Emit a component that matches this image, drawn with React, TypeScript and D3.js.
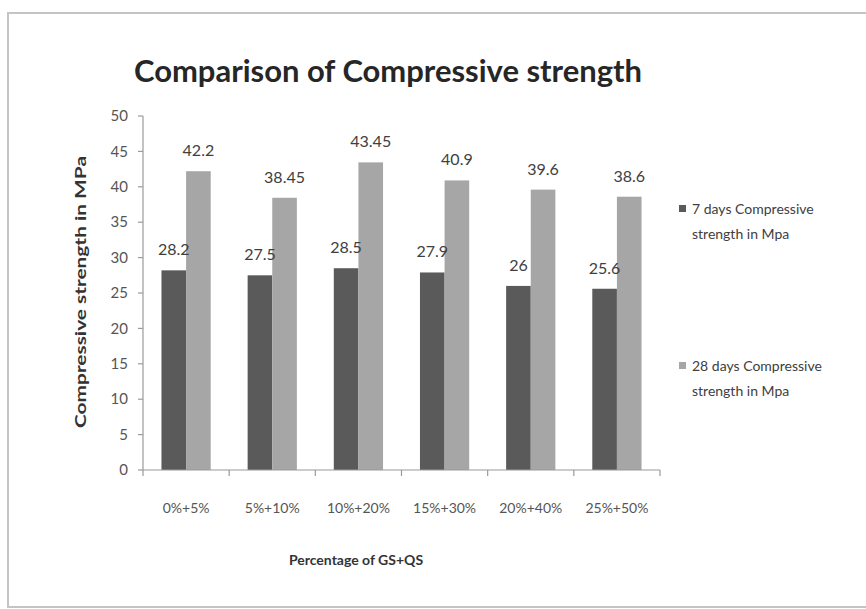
import React from "react";
import * as d3 from "d3";

const categories = ["0%+5%", "5%+10%", "10%+20%", "15%+30%", "20%+40%", "25%+50%"];
const days7 = [28.2, 27.5, 28.5, 27.9, 26, 25.6];
const days28 = [42.2, 38.45, 43.45, 40.9, 39.6, 38.6];
const seriesNames = ["7 days Compressive strength in Mpa", "28 days Compressive strength in Mpa"];
const yTicks = [0, 5, 10, 15, 20, 25, 30, 35, 40, 45, 50];

const FONT = "Lato, 'Open Sans', sans-serif";
const colors = ["#5a5a5a", "#a6a6a6"];

export default function App() {
  const W = 866, H = 609;
  const left = 143, right = 660, top = 116, bottom = 470;
  const x = d3.scaleBand<string>().domain(categories).range([left, right]).padding(0);
  const inner = d3.scaleBand<string>().domain(["s0", "s1"]).range([0, x.bandwidth()]).paddingInner(0).paddingOuter(0.75);
  const y = d3.scaleLinear().domain([0, 50]).range([bottom, top]);
  const series = [days7, days28];
  const keys = ["s0", "s1"];
  const bw = inner.bandwidth();

  return (
    <svg width={W} height={H} style={{ position: "absolute", left: 0, top: 0, background: "#fff" }} fontFamily={FONT}>
      <rect x={0} y={0} width={W} height={H} fill="#fff" />
      <rect x={8} y={13} width={880} height={594} fill="#fff" stroke="#c4c4c4" strokeWidth={2} />
      <text x={388} y={82} textAnchor="middle" fontSize={30} fontWeight="bold" fill="#262626" textLength={508} lengthAdjust="spacingAndGlyphs">
        Comparison of Compressive strength
      </text>
      {/* y axis */}
      <line x1={left} x2={left} y1={top} y2={bottom} stroke="#9a9a9a" strokeWidth={1.2} />
      {yTicks.map((t) => (
        <g key={t}>
          <line x1={left - 5} x2={left} y1={y(t)} y2={y(t)} stroke="#9a9a9a" strokeWidth={1.2} />
          <text x={128} y={y(t)} dy="0.35em" textAnchor="end" fontSize={15} fill="#555">{t}</text>
        </g>
      ))}
      {/* bars */}
      {categories.map((c, i) => (
        <g key={"g" + c}>
          {series.map((s, j) => (
            <rect key={j} x={x(c)! + inner(keys[j])!} y={y(s[i])} width={bw} height={bottom - y(s[i])} fill={colors[j]} />
          ))}
        </g>
      ))}
      {/* x axis */}
      <line x1={left} x2={right} y1={bottom} y2={bottom} stroke="#9a9a9a" strokeWidth={1.2} />
      {categories.map((c) => (
        <line key={"tk" + c} x1={x(c)!} x2={x(c)!} y1={bottom} y2={bottom + 6} stroke="#9a9a9a" strokeWidth={1.2} />
      ))}
      <line x1={right} x2={right} y1={bottom} y2={bottom + 6} stroke="#9a9a9a" strokeWidth={1.2} />
      {categories.map((c) => (
        <text key={"lb" + c} x={x(c)! + x.bandwidth() / 2} y={513} textAnchor="middle" fontSize={14} fill="#555">{c}</text>
      ))}
      {/* data labels */}
      {categories.map((c, i) => (
        <g key={"dl" + c}>
          {series.map((s, j) => (
            <text key={j} x={x(c)! + inner(keys[j])! + bw / 2} y={y(s[i]) - 15} textAnchor="middle" fontSize={16} fill="#404040">{s[i]}</text>
          ))}
        </g>
      ))}
      {/* axis titles */}
      <text transform={`translate(86,292) rotate(-90)`} textAnchor="middle" fontSize={15} fontWeight="bold" fill="#333" textLength={272} lengthAdjust="spacingAndGlyphs">
        Compressive strength in MPa
      </text>
      <text x={356} y={565} textAnchor="middle" fontSize={14} fontWeight="bold" fill="#333">Percentage of GS+QS</text>
      {/* legend */}
      {seriesNames.map((n, j) => {
        const ly = j === 0 ? 209 : 366;
        const words = n.split(" ");
        const l1 = words.slice(0, 3).join(" ");
        const l2 = words.slice(3).join(" ");
        return (
          <g key={n}>
            <rect x={679} y={ly - 4} width={7} height={7} fill={colors[j]} />
            <text x={692} y={ly} dy="0.35em" fontSize={14} fill="#404040">{l1}</text>
            <text x={692} y={ly + 25} dy="0.35em" fontSize={14} fill="#404040">{l2}</text>
          </g>
        );
      })}
    </svg>
  );
}
